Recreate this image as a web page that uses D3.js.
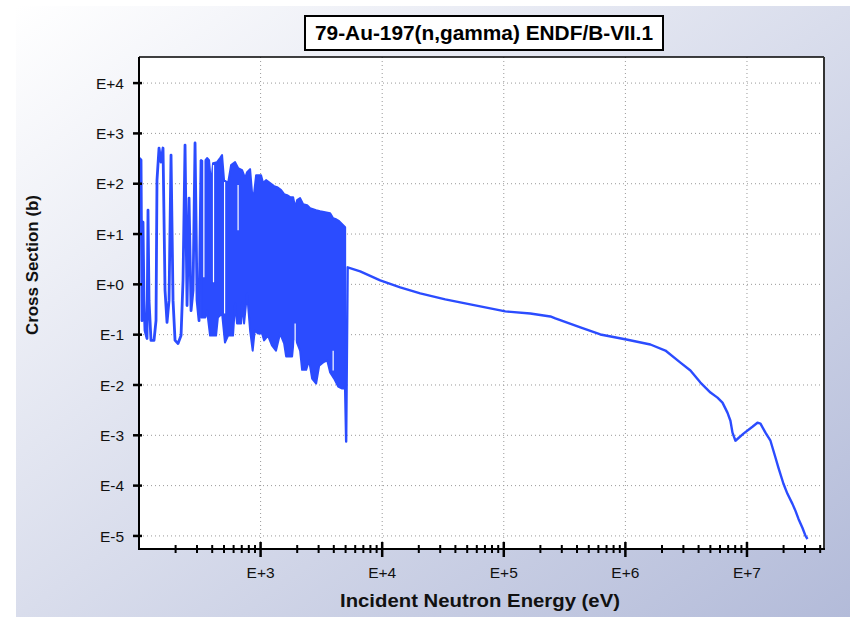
<!DOCTYPE html>
<html>
<head>
<meta charset="utf-8">
<title>Au-197 (n,gamma)</title>
<script src="https://cdn.jsdelivr.net/npm/d3@7"></script>
<style>
  body { margin: 0; background: #fff; }
  text { font-family: "Liberation Sans", Arial, sans-serif; }
</style>
</head>
<body>
<svg width="850" height="627"></svg>
<script>
// [energy (eV), cross section (b)]

// isolated resonances, 100 - 320 eV
const resonances = [
  [100, 324], [103.9, 295], [105.8, 0.19], [107.9, 17.2], [109.9, 0.48], [112, 0.121],
  [116.4, 0.084], [118.6, 29.8], [120.9, 0.48], [125.5, 0.077], [132.9, 0.077], [138, 0.19],
  [140.6, 118], [146.1, 512], [151.7, 269], [157.6, 512], [163.7, 0.76], [170, 0.175],
  [176.6, 0.48], [183.4, 371], [190.5, 0.48], [197.9, 0.077], [209.4, 0.067], [221.7, 0.096],
  [230.2, 1.2], [239.1, 587], [248.4, 0.38], [258, 51.7], [267.9, 0.3], [278.3, 0.76],
  [289, 644], [300.2, 0.48], [311.8, 0.19], [323.8, 295]
];

// dense resonance region, 320 eV - 5 keV: top and bottom of the band
const bandTop = [
  [323.8, 295], [342.7, 269], [362.9, 324], [376.9, 295], [391.4, 93.8], [406.4, 257],
  [438.5, 269], [464.2, 324], [482.1, 371], [500.7, 118], [540.2, 103], [571.8, 235],
  [616.9, 269], [653, 205], [704.5, 187], [745.6, 129], [774.4, 170], [819.7, 195],
  [851.3, 65], [884.3, 65], [918.4, 148], [1009, 148], [1048, 103], [1109, 118],
  [1197, 103], [1291, 89.6], [1367, 85.5], [1475, 74.6], [1561, 62.1], [1652, 59.3],
  [1749, 54], [1852, 54], [1923, 34.2], [1996, 47.1], [2113, 51.7], [2238, 39.2],
  [2415, 37.5], [2555, 32.7], [2705, 31.2], [2863, 29.8], [3088, 28.5], [3396, 27.2],
  [3733, 26], [3951, 20.6], [4182, 19.7], [4427, 18], [4777, 15], [4959, 13.7]
];
const bandBottom = [
  [323.8, 0.22], [351, 0.22], [362.9, 0.3], [384, 0.096], [430.3, 0.096], [445.6, 0.22],
  [482.1, 0.264], [509.2, 0.07], [540.2, 0.096], [593.2, 0.096], [616.9, 0.42], [639.9, 0.167],
  [691.4, 0.167], [704.5, 0.438], [731.6, 0.167], [774.4, 0.662], [819.7, 0.121], [860.9, 0.048],
  [895.1, 0.121], [952.7, 0.106], [1029, 0.106], [1068, 0.077], [1150, 0.096], [1239, 0.061],
  [1338, 0.048], [1446, 0.106], [1561, 0.067], [1621, 0.037], [1816, 0.037], [1886, 0.096],
  [1959, 0.077], [2113, 0.048], [2194, 0.02], [2369, 0.02], [2506, 0.031], [2653, 0.0134],
  [2863, 0.0107], [3030, 0.024], [3270, 0.028], [3528, 0.031], [3733, 0.0177], [4025, 0.0134],
  [4344, 0.0093], [4686, 0.0085], [4959, 0.0085]
];
// narrow dips between resonances inside the band: [energy, upper b, lower b]
const bandGaps = [
  [341.5, 295, 1.38], [410, 235, 1.1], [505.5, 108, 0.264], [653, 93.8, 11.9],
  [1923, 0.167, 0.039], [3951, 0.048, 0.0194]
];

// smooth (unresolved + fast) part, 5 keV - 31 MeV
const fastRange = [
  [4959, 0.0085], [5055, 0.00075], [5200, 2.18], [6592, 1.815], [9627, 1.2], [14060, 0.871],
  [20550, 0.662], [33000, 0.503], [52970, 0.4], [102900, 0.29], [165200, 0.264], [241500, 0.23],
  [265500, 0.21], [426500, 0.139], [622700, 0.101], [1.019e6, 0.0802], [1.606e6, 0.0638],
  [2.134e6, 0.0484], [2.836e6, 0.0279], [3.428e6, 0.01936], [4.143e6, 0.01116], [5.01e6, 0.00706],
  [5.72e6, 0.00561], [6.29e6, 0.00446], [6.91e6, 0.00282], [7.31e6, 0.00195], [7.6e6, 0.00113],
  [8.04e6, 0.00078], [9.36e6, 0.00108], [1.109e7, 0.00148], [1.219e7, 0.00178], [1.291e7, 0.0017],
  [1.419e7, 0.00113], [1.56e7, 0.00078], [1.717e7, 0.000358], [1.816e7, 0.000226], [1.995e7, 0.000109],
  [2.153e7, 6.87e-5], [2.366e7, 4.34e-5], [2.506e7, 3.15e-5], [2.653e7, 2.18e-5], [2.863e7, 1.44e-5],
  [3.03e7, 1.0e-5], [3.146e7, 8.7e-6]
];

const yTicks = [1e4, 1e3, 1e2, 1e1, 1, 1e-1, 1e-2, 1e-3, 1e-4, 1e-5];
const yTickLabels = ['E+4', 'E+3', 'E+2', 'E+1', 'E+0', 'E-1', 'E-2', 'E-3', 'E-4', 'E-5'];
const xTicks = [1e3, 1e4, 1e5, 1e6, 1e7];
const xTickLabels = ['E+3', 'E+4', 'E+5', 'E+6', 'E+7'];

const titleText = '79-Au-197(n,gamma) ENDF/B-VII.1';
const xTitle = 'Incident Neutron Energy (eV)';
const yTitle = 'Cross Section (b)';

const pLeft = 139, pRight = 824, pTop = 57, pBottom = 549;
const blue = '#2b4cff';

const svg = d3.select('svg');

const defs = svg.append('defs');
const grad = defs.append('linearGradient')
    .attr('id', 'bg')
    .attr('x1', 0).attr('y1', 0).attr('x2', 1).attr('y2', 1);
grad.append('stop').attr('offset', '0%').attr('stop-color', '#ffffff');
grad.append('stop').attr('offset', '100%').attr('stop-color', '#b3bbd9');

defs.append('clipPath').attr('id', 'plotClip')
  .append('rect')
    .attr('x', pLeft).attr('y', pTop)
    .attr('width', pRight - pLeft).attr('height', pBottom - pTop);

svg.append('rect')
    .attr('x', 16).attr('y', 6)
    .attr('width', 834).attr('height', 611)
    .attr('fill', 'url(#bg)');

const x = d3.scaleLog().domain([100, 4.3e7]).range([pLeft, pRight]);
const y = d3.scaleLog().domain([5.5e-6, 3.3e4]).range([pBottom, pTop]);

svg.append('rect')
    .attr('x', pLeft).attr('y', pTop)
    .attr('width', pRight - pLeft).attr('height', pBottom - pTop)
    .attr('fill', 'white');

// dotted grid
svg.append('g')
  .selectAll('line')
  .data(yTicks)
  .join('line')
    .attr('x1', pLeft).attr('x2', pRight)
    .attr('y1', d => y(d)).attr('y2', d => y(d))
    .attr('stroke', '#999')
    .attr('stroke-width', 1)
    .attr('stroke-dasharray', '1,3');

svg.append('g')
  .selectAll('line')
  .data(xTicks)
  .join('line')
    .attr('x1', d => x(d)).attr('x2', d => x(d))
    .attr('y1', pTop).attr('y2', pBottom)
    .attr('stroke', '#999')
    .attr('stroke-width', 1)
    .attr('stroke-dasharray', '1,3');

// data
const line = d3.line().x(d => x(d[0])).y(d => y(d[1]));
const plotG = svg.append('g').attr('clip-path', 'url(#plotClip)');

plotG.append('path')
    .attr('d', line(bandTop.concat(bandBottom.slice().reverse())) + 'Z')
    .attr('fill', blue)
    .attr('stroke', blue)
    .attr('stroke-width', 2)
    .attr('stroke-linejoin', 'round');

plotG.selectAll('line.gap')
  .data(bandGaps)
  .join('line')
    .attr('class', 'gap')
    .attr('x1', d => x(d[0])).attr('x2', d => x(d[0]))
    .attr('y1', d => y(d[1])).attr('y2', d => y(d[2]))
    .attr('stroke', 'white')
    .attr('stroke-width', 1.2);

plotG.append('path')
    .attr('d', line(resonances))
    .attr('fill', 'none')
    .attr('stroke', blue)
    .attr('stroke-width', 2.8)
    .attr('stroke-linejoin', 'round');

plotG.append('path')
    .attr('d', line(fastRange))
    .attr('fill', 'none')
    .attr('stroke', blue)
    .attr('stroke-width', 2.4)
    .attr('stroke-linejoin', 'round');

// frame
svg.append('line').attr('x1', pLeft).attr('x2', pRight).attr('y1', pTop).attr('y2', pTop)
    .attr('stroke', '#000').attr('stroke-width', 1.5);
svg.append('line').attr('x1', pRight).attr('x2', pRight).attr('y1', pTop).attr('y2', pBottom)
    .attr('stroke', '#333').attr('stroke-width', 2);
svg.append('line').attr('x1', pLeft).attr('x2', pLeft).attr('y1', pTop).attr('y2', pBottom + 1)
    .attr('stroke', '#000').attr('stroke-width', 2);
svg.append('line').attr('x1', pLeft - 1).attr('x2', pRight + 1).attr('y1', pBottom).attr('y2', pBottom)
    .attr('stroke', '#000').attr('stroke-width', 2);

// y ticks + labels
const yAxis = svg.append('g');
yAxis.selectAll('line')
  .data(yTicks)
  .join('line')
    .attr('x1', pLeft - 6).attr('x2', pLeft + 3)
    .attr('y1', d => y(d)).attr('y2', d => y(d))
    .attr('stroke', '#000').attr('stroke-width', 2.5);
yAxis.selectAll('text')
  .data(yTicks)
  .join('text')
    .attr('x', pLeft - 15)
    .attr('y', d => y(d))
    .attr('dy', '0.36em')
    .attr('text-anchor', 'end')
    .attr('font-size', 15.5)
    .attr('fill', '#111')
    .text((d, i) => yTickLabels[i]);

// x ticks: minor from the scale, major at decades
const minor = x.ticks().filter(d => !xTicks.includes(d) && d > 100);
const xAxis = svg.append('g');
xAxis.selectAll('line.minor')
  .data(minor)
  .join('line')
    .attr('class', 'minor')
    .attr('x1', d => x(d)).attr('x2', d => x(d))
    .attr('y1', pBottom - 4).attr('y2', pBottom + 4)
    .attr('stroke', '#000').attr('stroke-width', 2);
xAxis.selectAll('line.major')
  .data(xTicks)
  .join('line')
    .attr('class', 'major')
    .attr('x1', d => x(d)).attr('x2', d => x(d))
    .attr('y1', pBottom - 7).attr('y2', pBottom + 8)
    .attr('stroke', '#000').attr('stroke-width', 2.5);
xAxis.selectAll('text')
  .data(xTicks)
  .join('text')
    .attr('x', d => x(d))
    .attr('y', pBottom + 29)
    .attr('text-anchor', 'middle')
    .attr('font-size', 15.5)
    .attr('fill', '#111')
    .text((d, i) => xTickLabels[i]);

// axis titles
svg.append('text')
    .attr('x', 480).attr('y', 607)
    .attr('text-anchor', 'middle')
    .attr('font-size', 19)
    .attr('font-weight', 'bold')
    .attr('textLength', 280)
    .attr('lengthAdjust', 'spacingAndGlyphs')
    .attr('fill', '#111')
    .text(xTitle);

svg.append('text')
    .attr('transform', 'translate(38,265) rotate(-90)')
    .attr('text-anchor', 'middle')
    .attr('font-size', 17)
    .attr('font-weight', 'bold')
    .attr('textLength', 140)
    .attr('lengthAdjust', 'spacingAndGlyphs')
    .attr('fill', '#111')
    .text(yTitle);

// title box
svg.append('rect')
    .attr('x', 305).attr('y', 16)
    .attr('width', 358).attr('height', 34)
    .attr('fill', 'white')
    .attr('stroke', '#000')
    .attr('stroke-width', 2);
svg.append('text')
    .attr('x', 484).attr('y', 40)
    .attr('text-anchor', 'middle')
    .attr('font-size', 20)
    .attr('font-weight', 'bold')
    .attr('textLength', 338)
    .attr('lengthAdjust', 'spacingAndGlyphs')
    .attr('fill', '#000')
    .text(titleText);
</script>
</body>
</html>
